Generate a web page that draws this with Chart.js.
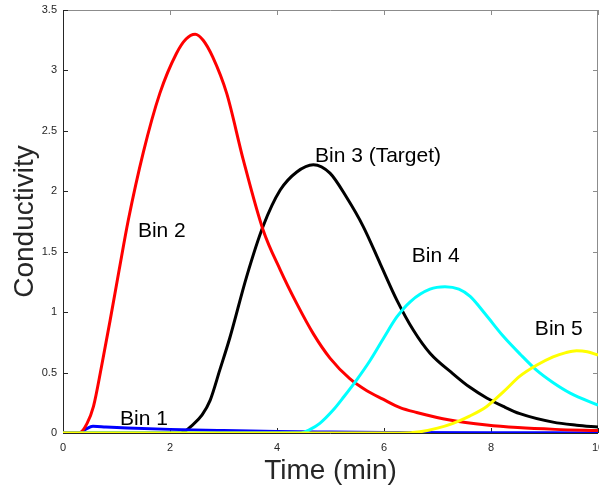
<!DOCTYPE html>
<html>
<head>
<meta charset="utf-8">
<script src="https://cdn.jsdelivr.net/npm/chart.js@4/dist/chart.umd.min.js"></script>
<style>
  body { margin: 0; background: #fff; overflow: hidden; }
  canvas { display: block; }
</style>
</head>
<body>
<canvas id="chart" width="599" height="491"></canvas>
<script>
// data (time in min, conductivity)
const bin1Time = [0, 0.3, 0.42, 0.56, 0.8, 1.2, 2.0, 3.0, 4.0, 5.0, 6.0, 8.0, 10];
const bin1Cond = [0, 0, 0.03, 0.055, 0.05, 0.042, 0.03, 0.02, 0.012, 0.008, 0.005, 0.002, 0.001];

const bin2Time = [0, 0.3, 0.45, 0.57, 0.72, 0.88, 1.05, 1.22, 1.5, 1.81, 2.12, 2.3, 2.47, 2.62, 2.8, 3.06, 3.37, 3.74, 4.06, 4.37, 4.68, 4.99, 5.36, 5.68, 5.98, 6.3, 6.61, 7.23, 7.92, 8.5, 9.2, 10];
const bin2Cond = [0, 0, 0.08, 0.22, 0.55, 0.93, 1.35, 1.76, 2.32, 2.81, 3.14, 3.26, 3.30, 3.25, 3.11, 2.81, 2.26, 1.68, 1.35, 1.07, 0.82, 0.62, 0.45, 0.35, 0.28, 0.21, 0.17, 0.107, 0.066, 0.045, 0.03, 0.02];

const bin3Time = [0, 2.2, 2.43, 2.6, 2.75, 2.93, 3.12, 3.43, 3.74, 4.06, 4.37, 4.68, 4.99, 5.30, 5.61, 5.93, 6.24, 6.55, 6.86, 7.29, 7.6, 7.92, 8.23, 8.54, 9.16, 9.6, 10];
const bin3Cond = [0, 0, 0.07, 0.15, 0.27, 0.52, 0.79, 1.29, 1.71, 2.01, 2.16, 2.22, 2.15, 1.95, 1.71, 1.40, 1.10, 0.85, 0.66, 0.49, 0.38, 0.29, 0.22, 0.16, 0.09, 0.065, 0.05];

const bin4Time = [0, 4.45, 4.62, 4.8, 5.05, 5.25, 5.49, 5.74, 6.0, 6.24, 6.5, 6.86, 7.14, 7.4, 7.61, 7.9, 8.23, 8.55, 8.85, 9.15, 9.48, 10];
const bin4Cond = [0, 0, 0.03, 0.08, 0.19, 0.30, 0.44, 0.60, 0.79, 0.96, 1.09, 1.19, 1.21, 1.19, 1.13, 0.98, 0.80, 0.65, 0.52, 0.42, 0.33, 0.23];

const bin5Time = [0, 6.3, 6.67, 7.0, 7.29, 7.6, 7.92, 8.23, 8.54, 8.85, 9.16, 9.4, 9.6, 9.8, 10];
const bin5Cond = [0, 0, 0.01, 0.04, 0.08, 0.14, 0.22, 0.34, 0.47, 0.56, 0.63, 0.665, 0.68, 0.672, 0.645];

const xTicks = [0, 2, 4, 6, 8, 10];
const yTicks = [0, 0.5, 1, 1.5, 2, 2.5, 3, 3.5];

// text labels placed in data coordinates (left edge, baseline)
const labelText = ['Bin 1', 'Bin 2', 'Bin 3 (Target)', 'Bin 4', 'Bin 5'];
const labelX = [1.065, 1.4, 4.71, 6.52, 8.82];
const labelY = [0.066, 1.62, 2.245, 1.414, 0.81];

const FONT = '"Liberation Sans", Arial, Helvetica, sans-serif';

function pts(t, v) {
  return t.map((x, i) => ({ x: x, y: v[i] }));
}

function line(data, color, order) {
  return {
    data: data,
    borderColor: color,
    borderWidth: 3,
    pointRadius: 0,
    fill: false,
    cubicInterpolationMode: 'monotone',
    order: order
  };
}

// MATLAB-like box with inward ticks, drawn under the lines
const boxPlugin = {
  id: 'box',
  beforeDatasetsDraw(chart) {
    const { ctx, chartArea: a, scales } = chart;
    ctx.save();
    ctx.lineWidth = 1;
    ctx.strokeStyle = '#8c8c8c';
    ctx.beginPath();
    ctx.moveTo(a.left, a.top + 0.5); ctx.lineTo(a.right, a.top + 0.5);
    ctx.moveTo(a.right - 0.5, a.top); ctx.lineTo(a.right - 0.5, a.bottom);
    xTicks.forEach(v => {
      const x = Math.round(scales.x.getPixelForValue(v)) + 0.5;
      ctx.moveTo(x, a.top); ctx.lineTo(x, a.top + 5);
    });
    yTicks.forEach(v => {
      const y = Math.round(scales.y.getPixelForValue(v)) + 0.5;
      ctx.moveTo(a.right, y); ctx.lineTo(a.right - 5, y);
    });
    ctx.stroke();

    ctx.strokeStyle = '#262626';
    ctx.beginPath();
    ctx.moveTo(a.left + 0.5, a.top); ctx.lineTo(a.left + 0.5, a.bottom + 0.5);
    ctx.lineTo(a.right, a.bottom + 0.5);
    xTicks.forEach(v => {
      const x = Math.round(scales.x.getPixelForValue(v)) + 0.5;
      ctx.moveTo(x, a.bottom); ctx.lineTo(x, a.bottom - 5);
    });
    yTicks.forEach(v => {
      const y = Math.round(scales.y.getPixelForValue(v)) + 0.5;
      ctx.moveTo(a.left, y); ctx.lineTo(a.left + 5, y);
    });
    ctx.stroke();
    ctx.restore();
  },
  afterDatasetsDraw(chart) {
    const { ctx, scales } = chart;
    ctx.save();
    ctx.font = '21px ' + FONT;
    ctx.fillStyle = '#000';
    ctx.textAlign = 'left';
    ctx.textBaseline = 'alphabetic';
    labelText.forEach((t, i) => {
      ctx.fillText(t, scales.x.getPixelForValue(labelX[i]), scales.y.getPixelForValue(labelY[i]));
    });
    ctx.restore();
  }
};

const ctx = document.getElementById('chart');
new Chart(ctx, {
  type: 'line',
  data: {
    datasets: [
      line(pts(bin1Time, bin1Cond), '#0000ff', 4),
      line(pts(bin2Time, bin2Cond), '#ff0000', 3),
      line(pts(bin3Time, bin3Cond), '#000000', 5),
      line(pts(bin4Time, bin4Cond), '#00ffff', 2),
      line(pts(bin5Time, bin5Cond), '#ffff00', 1)
    ]
  },
  options: {
    responsive: false,
    animation: false,
    layout: { padding: { top: 10, right: 1, bottom: 0, left: 0 } },
    plugins: { legend: { display: false }, tooltip: { enabled: false } },
    scales: {
      x: {
        type: 'linear',
        min: 0, max: 10,
        grid: { display: false, drawTicks: false },
        border: { display: false },
        afterBuildTicks: s => { s.ticks = xTicks.map(v => ({ value: v })); },
        afterFit: s => { s.paddingLeft = 0; s.paddingRight = 0; s.height = 58; },
        ticks: { color: '#262626', padding: 8, maxRotation: 0, font: { family: FONT, size: 11 }, callback: v => String(v) },
        title: { display: true, text: 'Time (min)', color: '#262626', padding: { top: 0, bottom: 3 }, font: { family: FONT, size: 28 } }
      },
      y: {
        min: 0, max: 3.5,
        grid: { display: false, drawTicks: false },
        border: { display: false },
        afterBuildTicks: s => { s.ticks = yTicks.map(v => ({ value: v })); },
        afterFit: s => { s.paddingTop = 0; s.paddingBottom = 0; s.width = 63; },
        ticks: { color: '#262626', padding: 6, font: { family: FONT, size: 11 }, callback: v => String(v) },
        title: { display: true, text: 'Conductivity', color: '#262626', padding: { top: 8, bottom: 0 }, font: { family: FONT, size: 28 } }
      }
    }
  },
  plugins: [boxPlugin]
});
</script>
</body>
</html>
